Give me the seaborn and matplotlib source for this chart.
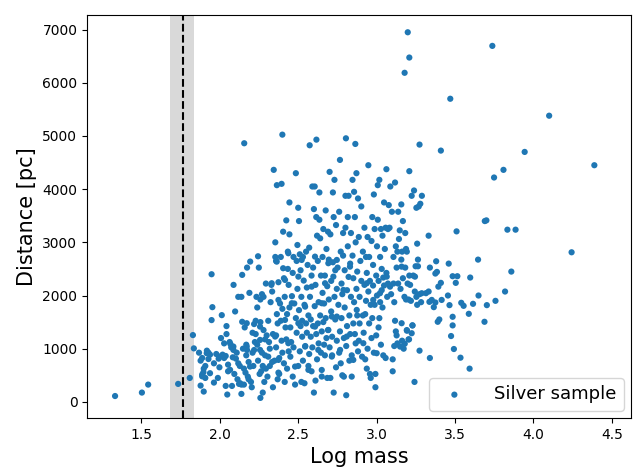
import matplotlib
matplotlib.use("Agg")
import matplotlib.pyplot as plt
import seaborn as sns
import pandas as pd

log_mass = [
    1.334, 1.505, 1.545, 1.736, 1.81, 1.83, 1.836,
    2.157, 2.40, 2.574, 2.617, 2.805, 2.865, 3.199, 3.209, 3.179, 3.738, 3.47, 4.10,
    3.274, 3.41, 3.944, 4.388, 3.809, 3.749, 3.69, 3.70, 3.834, 3.886, 4.243, 3.859,
    3.819, 3.758, 3.703, 3.688, 3.65, 3.647, 3.597, 3.615, 3.588, 3.593, 3.535, 3.493,
    3.475, 3.485, 3.485, 3.54, 3.555, 3.51, 3.505, 3.485, 3.515, 3.46, 3.455, 3.465,
    3.40, 3.39, 3.38, 3.34, 3.385, 3.375, 3.41, 3.375, 3.365, 3.337, 3.332, 3.315,
    3.332, 3.34, 3.274, 3.242, 3.229, 3.207, 3.194, 3.18,
    # 1.85-2.0
    1.869, 1.879, 1.879, 1.899, 1.889, 1.899, 1.909, 1.919, 1.929, 1.889, 1.909, 1.929,
    1.939, 1.949, 1.949, 1.954, 1.964, 1.964, 1.979, 1.989, 1.994, 1.999, 1.889, 1.897,
    # 2.0-2.15
    2.014, 2.019, 2.009, 2.029, 2.039, 2.044, 2.044, 2.039, 2.049, 2.054, 2.054, 2.069,
    2.079, 2.084, 2.089, 2.099, 2.104, 2.094, 2.109, 2.119, 2.114, 2.124, 2.129, 2.139,
    2.139, 2.119, 2.139, 2.144, 2.144, 2.149, 2.029, 2.064, 2.074,
    # 2.15-2.3
    2.155, 2.155, 2.16, 2.165, 2.17, 2.17, 2.175, 2.18, 2.185, 2.19, 2.195, 2.2, 2.205,
    2.21, 2.215, 2.22, 2.225, 2.23, 2.23, 2.235, 2.24, 2.24, 2.245, 2.245, 2.25, 2.255,
    2.26, 2.26, 2.265, 2.27, 2.27, 2.275, 2.275, 2.28, 2.28, 2.285, 2.29, 2.29, 2.295,
    2.295, 2.175, 2.26, 2.185, 2.21, 2.22,
    # 2.3-2.45
    2.305, 2.31, 2.315, 2.32, 2.325, 2.33, 2.335, 2.335, 2.34, 2.345, 2.35, 2.355, 2.355,
    2.36, 2.36, 2.365, 2.365, 2.37, 2.37, 2.375, 2.375, 2.38, 2.385, 2.39, 2.39, 2.395,
    2.395, 2.4, 2.4, 2.405, 2.405, 2.41, 2.41, 2.415, 2.415, 2.42, 2.425, 2.425, 2.43,
    2.43, 2.435, 2.435, 2.44, 2.44, 2.445, 2.445, 2.445, 2.32, 2.34, 2.36, 2.38, 2.30, 2.31,
    # 2.45-2.6
    2.451, 2.451, 2.456, 2.461, 2.466, 2.466, 2.471, 2.471, 2.476, 2.481, 2.486, 2.486,
    2.491, 2.491, 2.496, 2.496, 2.501, 2.501, 2.506, 2.506, 2.511, 2.511, 2.516, 2.516,
    2.521, 2.521, 2.526, 2.526, 2.531, 2.531, 2.536, 2.541, 2.541, 2.546, 2.551, 2.551,
    2.556, 2.556, 2.561, 2.566, 2.566, 2.571, 2.571, 2.576, 2.581, 2.581, 2.586, 2.586,
    2.591, 2.591, 2.596, 2.596, 2.606, 2.601, 2.601,
    # 2.6-2.75
    2.606, 2.611, 2.611, 2.616, 2.616, 2.621, 2.621, 2.626, 2.626, 2.631, 2.631, 2.636,
    2.636, 2.641, 2.641, 2.646, 2.646, 2.651, 2.651, 2.656, 2.656, 2.661, 2.661, 2.666,
    2.666, 2.671, 2.671, 2.676, 2.676, 2.681, 2.681, 2.686, 2.686, 2.691, 2.691, 2.696,
    2.696, 2.701, 2.701, 2.706, 2.706, 2.711, 2.711, 2.717, 2.717, 2.722, 2.722, 2.727,
    2.727, 2.732, 2.732, 2.737, 2.737, 2.742, 2.742, 2.747, 2.747,
    # 2.75-2.9
    2.752, 2.757, 2.762, 2.762, 2.767, 2.767, 2.772, 2.772, 2.777, 2.777, 2.782, 2.782,
    2.787, 2.787, 2.792, 2.792, 2.797, 2.797, 2.802, 2.802, 2.807, 2.807, 2.812, 2.812,
    2.817, 2.817, 2.822, 2.822, 2.827, 2.827, 2.832, 2.832, 2.837, 2.837, 2.842, 2.842,
    2.847, 2.847, 2.852, 2.852, 2.857, 2.857, 2.862, 2.862, 2.867, 2.867, 2.872, 2.872,
    2.877, 2.877, 2.882, 2.882, 2.887, 2.887, 2.892, 2.892, 2.897,
    # 2.9-3.05
    2.903, 2.903, 2.908, 2.913, 2.913, 2.918, 2.923, 2.923, 2.928, 2.928, 2.933, 2.933,
    2.938, 2.938, 2.943, 2.943, 2.948, 2.948, 2.953, 2.953, 2.958, 2.958, 2.963, 2.963,
    2.968, 2.968, 2.973, 2.973, 2.978, 2.978, 2.983, 2.983, 2.988, 2.988, 2.993, 2.993,
    2.998, 2.998, 3.003, 3.003, 3.008, 3.008, 3.013, 3.013, 3.018, 3.018, 3.023, 3.023,
    3.028, 3.028, 3.033, 3.033, 3.038, 3.038, 3.043, 3.043, 3.048, 3.048,
    # 3.05-3.2
    3.053, 3.058, 3.058, 3.063, 3.063, 3.068, 3.073, 3.073, 3.078, 3.083, 3.088, 3.093,
    3.098, 3.103, 3.103, 3.108, 3.108, 3.113, 3.113, 3.118, 3.118, 3.123, 3.123, 3.128,
    3.128, 3.133, 3.133, 3.138, 3.138, 3.143, 3.148, 3.153, 3.158, 3.158, 3.163, 3.163,
    3.168, 3.168, 3.173, 3.178, 3.183, 3.183, 3.188, 3.188, 3.193, 3.193, 3.198,
    # 3.2-3.35
    3.204, 3.204, 3.209, 3.209, 3.214, 3.219, 3.224, 3.229, 3.234, 3.239, 3.244, 3.249,
    3.254, 3.254, 3.259, 3.259, 3.264, 3.264, 3.269, 3.274, 3.279, 3.284, 3.289,
    # dense core, extra reads
    2.364, 2.438, 2.523, 2.608, 2.693, 2.332, 2.417, 2.502, 2.587, 2.672, 2.375, 2.460,
    2.545, 2.651, 2.715, 2.417, 2.502, 2.608, 2.693, 2.354, 2.438, 2.545, 2.629, 2.715,
    2.375, 2.481, 2.566, 2.651,
    2.747, 2.831, 2.938, 3.022, 2.789, 2.874, 2.747, 2.979, 3.086, 2.810, 2.916, 2.768,
    2.852, 3.001, 3.065, 2.725,
    1.918, 2.003, 2.088, 2.173, 2.258, 1.939, 2.067, 2.194, 2.131, 2.258, 2.173, 2.258,
    2.088,
    3.160, 3.245, 3.288, 3.394, 3.352, 3.160, 3.224, 3.150, 3.415,
]

distance = [
    110, 175, 325, 338, 450, 1256, 1006,
    4863, 5025, 4825, 4931, 4956, 4850, 6950, 6475, 6188, 6694, 5700, 5381,
    4838, 4725, 4700, 4450, 4363, 4219, 3400, 3413, 3238, 3238, 2813, 2450,
    2075, 1900, 1819, 1506, 2000, 2675, 2338, 1844, 1656, 625, 831, 994,
    1238, 1438, 1600, 1863, 1806, 3206, 2238, 2363, 2363, 2600, 2000, 1819,
    1550, 1506, 2644, 2525, 2444, 2413, 2238, 1869, 1781, 1881, 2075, 2044,
    3125, 825, 963, 375, 1438, 1175, 1338, 1094,
    # 1.85-2.0
    925, 775, 306, 194, 481, 625, 675, 963, 925, 513, 450, 806,
    888, 2400, 1538, 1781, 725, 363, 900, 450, 813, 650, 825, 556,
    # 2.0-2.15
    1631, 888, 1200, 825, 863, 1275, 1425, 300, 138, 575, 700, 1088,
    300, 838, 2200, 1700, 813, 525, 925, 725, 425, 338, 675, 150,
    325, 1975, 1975, 2388, 1506, 1000, 1100, 1125, 1025,
    # 2.15-2.3
    625, 325, 1400, 550, 875, 1075, 975, 475, 750, 2050, 2638, 375, 275,
    925, 675, 975, 1125, 1525, 1275, 1975, 1775, 1075, 2738, 775, 2525, 525,
    1500, 75, 575, 2025, 925, 175, 675, 1975, 1350, 375, 1175, 875, 2225,
    625, 2525, 1925, 425, 1300, 1463,
    # 2.3-2.45
    475, 1525, 1125, 1000, 1875, 2200, 2075, 750, 1275, 4363, 775, 2725, 3000,
    1250, 2650, 4075, 1650, 1475, 425, 550, 2250, 825, 1850, 2725, 1525, 4100,
    1150, 1750, 925, 3200, 2513, 725, 2325, 375, 1975, 1400, 3413, 1175, 625,
    1650, 2825, 2500, 2200, 950, 3150, 3750, 1775, 675, 275, 1025, 525, 1250, 850,
    # 2.45-2.6
    850, 1400, 1125, 1988, 475, 2425, 1025, 2725, 1850, 325, 4300, 1575,
    2650, 1300, 2950, 2125, 3650, 675, 3400, 1725, 950, 2775, 2475, 1425,
    375, 1975, 1525, 1225, 2725, 775, 2281, 350, 1825, 1050, 1475, 2825,
    2150, 1300, 2575, 1625, 675, 900, 2900, 1975, 1225, 1550, 2375, 575,
    4050, 1025, 1425, 2525, 4050, 3625, 175,
    # 2.6-2.75
    1800, 400, 2200, 1275, 3475, 3125, 800, 1475, 2650, 1100, 1875, 3938,
    3425, 3075, 1625, 925, 2375, 1325, 600, 2050, 2725, 3250, 1500, 1075,
    1850, 2375, 875, 3600, 1575, 2875, 1200, 2175, 450, 3200, 1350, 2675,
    1925, 4325, 1025, 450, 3150, 2275, 1700, 875, 1225, 3938, 2625, 3475,
    175, 4175, 1975, 2475, 1550, 3325, 650, 1150, 2125,
    # 2.75-2.9
    2525, 1825, 3575, 925, 4550, 1325, 725, 2825, 2225, 1575, 500, 2025,
    3175, 2750, 475, 1200, 2475, 1775, 3875, 3275, 125, 1050, 2100, 1425,
    2925, 3475, 3875, 2350, 775, 1625, 2600, 1275, 3175, 1975, 475, 875,
    4175, 2750, 1475, 2325, 3950, 1875, 3475, 1275, 1100, 3000, 4300, 2125,
    2450, 1625, 3825, 950, 3100, 1150, 1975, 1475, 2650,
    # 2.9-3.05
    3675, 2275, 850, 2825, 1625, 1300, 3275, 2200, 1650, 800, 2725, 1900,
    625, 2425, 3100, 1000, 4450, 2075, 1475, 2725, 525, 2275, 450, 1825,
    1200, 3025, 3475, 1575, 2575, 2188, 3900, 925, 1825, 3250, 275, 525,
    2375, 1250, 2925, 2000, 4075, 3425, 1400, 2275, 4175, 1575, 1875, 2725,
    3250, 1075, 2500, 2100, 3125, 1775, 875, 2338, 3750, 2188,
    # 3.05-3.2
    2875, 825, 3275, 4375, 2425, 1975, 3250, 2225, 3700, 3275, 4050, 2025,
    3575, 575, 800, 2725, 2225, 1050, 1875, 4125, 1525, 2925, 1325, 2525,
    1250, 2825, 1100, 3575, 2225, 3063, 3225, 2125, 3713, 2675, 2825, 1150,
    3400, 2325, 1000, 1975, 3175, 2525, 1925, 2875, 1350, 2825, 2225,
    # 3.2-3.35
    1175, 1925, 4338, 2375, 2200, 1900, 3875, 1438, 2375, 3975, 2075, 2550,
    3650, 1975, 2975, 1825, 2675, 2550, 3675, 2025, 3725, 1875, 3875,
    # dense core, extra reads
    2637, 2795, 2669, 2731, 2607, 2231, 2293, 2355, 2167, 2231, 1917, 1855,
    1791, 1855, 1604, 1541, 1479, 1415, 1353, 1228, 1103, 1040, 977, 852,
    789, 664, 602, 476,
    2669, 2543, 2231, 2043, 2105, 1729, 1604, 1917, 2167, 1228, 1103, 977,
    789, 915, 2355, 2355,
    915, 852, 977, 1040, 977, 539, 602, 664, 351, 1165, 1479, 1415,
    1040,
    2543, 2355, 2043, 2167, 1917, 1479, 1291, 1040, 1917,
]

shade_range = [1.685, 1.838]
threshold = 1.77

df = pd.DataFrame({"Log mass": log_mass, "Distance": distance})

fig = plt.figure(figsize=(6.36, 4.70), dpi=100)
ax = fig.add_axes([0.137, 0.111, 0.855, 0.857])

ax.axvspan(shade_range[0], shade_range[1], color="#d9d9d9", lw=0, zorder=0)
ax.axvline(threshold, color="black", ls="--", lw=1.5, zorder=1)

sns.scatterplot(data=df, x="Log mass", y="Distance", ax=ax, s=20,
                color="#1f77b4", edgecolor="none", label="Silver sample", zorder=2)

ax.set_xlim(1.156, 4.621)
ax.set_ylim(-300, 7274)
ax.set_xticks([1.5, 2.0, 2.5, 3.0, 3.5, 4.0, 4.5])
ax.set_yticks([0, 1000, 2000, 3000, 4000, 5000, 6000, 7000])
ax.set_xlabel("Log mass", fontsize=15)
ax.set_ylabel("Distance [pc]", fontsize=15)
ax.tick_params(labelsize=10)
ax.legend(loc="lower right", fontsize=13, handletextpad=1.2, borderaxespad=0.4)

fig.savefig("out.png", dpi=100)
